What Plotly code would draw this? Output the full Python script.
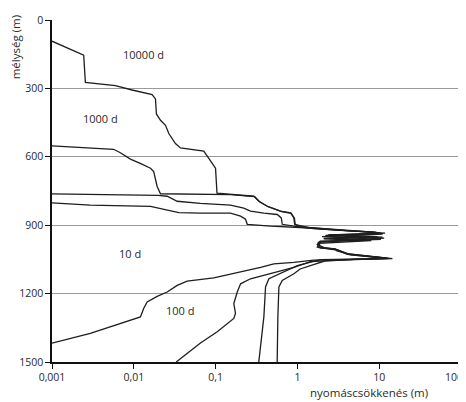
import math
import plotly.graph_objects as go

# --- data (x: drawdown in m, y: depth in m) ---
d10000_x = [0.001, 0.00244, 0.00256, 0.00596, 0.00953, 0.01675, 0.0184, 0.0189, 0.0212, 0.0244, 0.0268, 0.0323,
            0.0372, 0.0717, 0.0826, 0.0998, 0.104, 0.152, 0.294, 0.338, 0.428, 0.623, 0.826, 0.906, 0.925,
            1.5, 5.0, 10.0, 11.8, 2.2, 11.5, 1.8, 1.8, 3.2, 4.2, 14.5, 6.0, 1.58,
            0.906, 0.515, 0.355, 0.202, 0.095, 0.0449, 0.0339, 0.0256, 0.0193, 0.01455, 0.0132, 0.01205,
            0.00909, 0.00294, 0.001]
d10000_y = [93, 154, 274, 288, 307, 327, 346, 412, 440, 462, 498, 542,
            561, 575, 607, 650, 759, 765, 773, 795, 817, 838, 846, 868, 896,
            914, 926, 932, 935, 945, 957, 975, 998, 1010, 1026, 1047, 1049, 1053,
            1063, 1070, 1085, 1106, 1131, 1145, 1164, 1193, 1212, 1237, 1265, 1302,
            1316, 1374, 1417]

d1000_x = [0.001, 0.00184, 0.00567, 0.00685, 0.00909, 0.012, 0.016, 0.0175, 0.0193, 0.0212, 0.05, 0.104,
           0.155, 0.30, 0.345, 0.44, 0.64, 0.84, 0.92, 0.94,
           1.1, 4.0, 9.0, 11.0, 2.0, 10.5, 1.9, 1.75, 3.0, 4.0, 13.0, 5.0, 1.45,
           0.906, 0.47, 0.267, 0.202, 0.184, 0.167, 0.175, 0.167, 0.1047, 0.0653, 0.0339, 0.033]
d1000_y = [552, 557, 567, 582, 610, 629, 650, 665, 730, 762, 764, 763,
           766, 775, 797, 819, 840, 848, 869, 897,
           908, 924, 931, 939, 950, 962, 972, 995, 1006, 1025, 1046, 1050, 1060,
           1085, 1113, 1135, 1157, 1193, 1244, 1287, 1309, 1367, 1417, 1497, 1500]

d100_x = [0.001, 0.00909, 0.0199, 0.0256, 0.0339, 0.0653, 0.152, 0.221, 0.267, 0.389, 0.567, 0.635, 0.653,
          1.08, 3.5, 8.5, 10.5, 2.4, 11.0, 2.1, 8.0, 1.85, 1.9, 2.9, 4.1, 12.5, 4.5, 1.9,
          0.999, 0.623, 0.448, 0.408, 0.389, 0.338, 0.335]
d100_y = [763, 766, 769, 773, 795, 804, 812, 825, 838, 847, 853, 868, 896,
          908, 922, 930, 937, 943, 952, 960, 967, 980, 1000, 1005, 1028, 1045, 1049, 1051,
          1077, 1113, 1135, 1171, 1302, 1497, 1500]

d10_x = [0.001, 0.00294, 0.016, 0.0256, 0.0355, 0.0653, 0.152, 0.202, 0.232, 0.244, 0.47,
         1.08, 3.0, 8.0, 10.0, 2.4, 9.5, 2.1, 7.0, 1.9, 1.75, 2.2, 2.9, 3.0, 4.5, 12.0, 4.5, 2.2,
         1.08, 0.906, 0.653, 0.594, 0.577, 0.567, 0.566]
d10_y = [802, 812, 817, 832, 845, 847, 847, 860, 874, 896, 904,
         910, 922, 930, 936, 942, 950, 958, 964, 970, 985, 1000, 1004, 1012, 1030, 1045, 1052, 1056,
         1092, 1113, 1142, 1171, 1302, 1497, 1500]

series = [(d10000_x, d10000_y), (d1000_x, d1000_y), (d100_x, d100_y), (d10_x, d10_y)]

label_text = ["10000 d", "1000 d", "10 d", "100 d"]
label_x = [0.0131, 0.0039, 0.0091, 0.037]
label_y = [152, 430, 1026, 1273]

x_tickvals = [0.001, 0.01, 0.1, 1, 10, 100]
x_ticktext = ["0,001", "0,01", "0,1", "1", "10", "100"]
y_tickvals = [0, 300, 600, 900, 1200, 1500]

FONT = "Open Sans"
TXT = "#2a2a2a"
fig = go.Figure()
for xs, ys in series:
    fig.add_trace(go.Scatter(x=xs, y=ys, mode="lines",
                             line=dict(color="#1e1e1e", width=1.3), hoverinfo="skip"))

for t, lx, ly in zip(label_text, label_x, label_y):
    fig.add_annotation(x=math.log10(lx), y=ly, xref="x", yref="y", text=t, showarrow=False,
                       font=dict(family=FONT, size=11, color=TXT))

# last tick label placed so that it stays inside the page
fig.add_annotation(x=1.0, y=0, xref="paper", yref="paper", xanchor="right", yanchor="middle",
                   xshift=4, yshift=-15, text=x_ticktext[-1], showarrow=False,
                   font=dict(family=FONT, size=10.5, color=TXT))

fig.add_annotation(x=0.775, y=0, xref="paper", yref="paper", xanchor="center", yanchor="middle",
                   yshift=-30, text="nyomáscsökkenés (m)", showarrow=False,
                   font=dict(family=FONT, size=11.5, color=TXT))
fig.add_annotation(x=-0.0897, y=0.921, xref="paper", yref="paper", xanchor="center", yanchor="middle",
                   text="mélység (m)", textangle=-90, showarrow=False,
                   font=dict(family=FONT, size=11.5, color=TXT))

fig.update_layout(
    width=458, height=394,
    margin=dict(l=44, r=5, t=9, b=40),
    paper_bgcolor="white", plot_bgcolor="white",
    showlegend=False,
    font=dict(family=FONT, size=10.5, color=TXT),
)
fig.update_xaxes(type="log", range=[-3, 2], tickvals=x_tickvals,
                 ticktext=x_ticktext[:-1] + [""],
                 showgrid=False, zeroline=False, showline=True, linecolor="#111", linewidth=1.5,
                 ticks="outside", ticklen=5, tickcolor="#111", mirror=False)
fig.update_yaxes(range=[1500, 0], tickvals=y_tickvals, showgrid=True, gridcolor="#9a9a9a", gridwidth=1,
                 zeroline=False, showline=True, linecolor="#111", linewidth=1.5,
                 ticks="outside", ticklen=5, tickcolor="#111")

fig.write_html("out.html")
